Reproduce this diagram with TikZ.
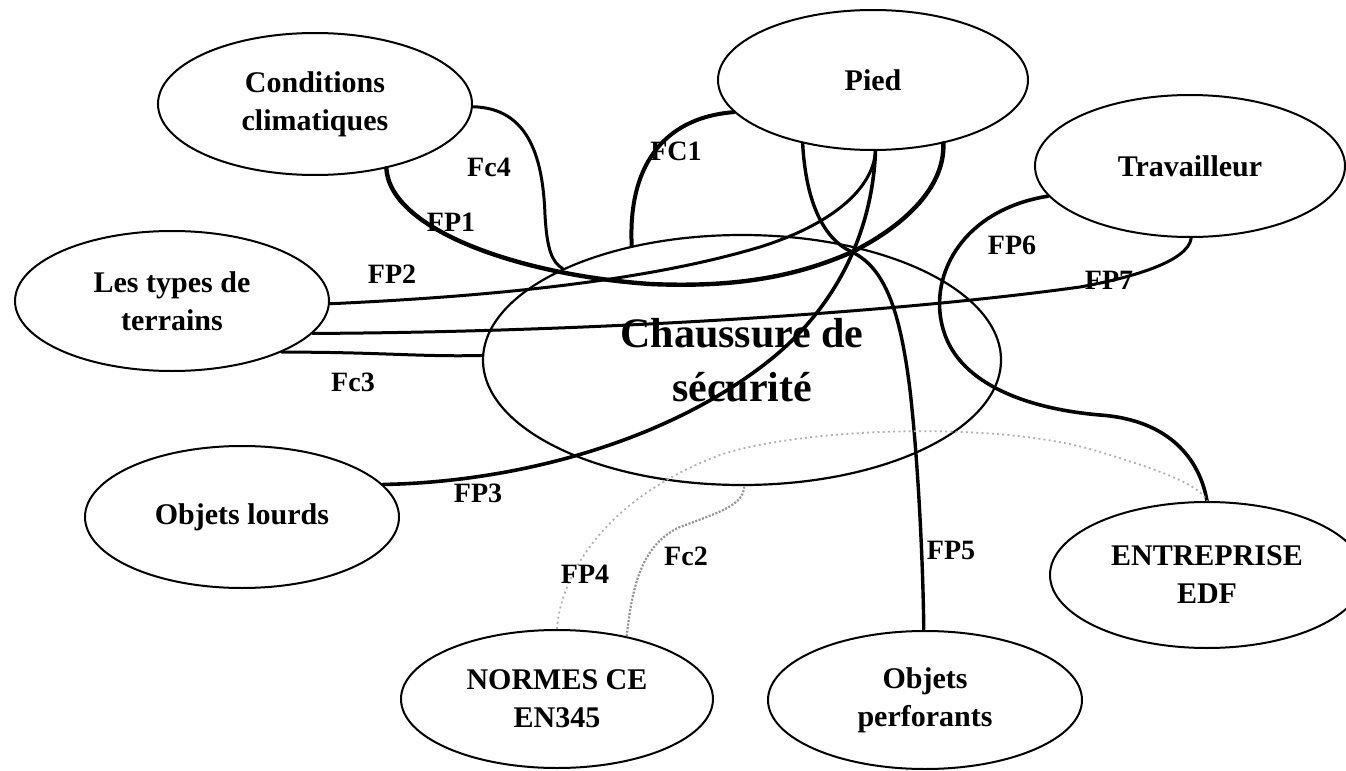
\documentclass[tikz,border=0pt]{standalone}
\usepackage{fontspec}
\setmainfont{Liberation Serif}
\usetikzlibrary{shapes.geometric}

\begin{document}
\begin{tikzpicture}[x=0.5pt,y=-0.5pt,
  bulle/.style={ellipse,draw,line width=1pt,minimum width=157pt,minimum height=71pt,inner sep=0pt,align=center,font=\bfseries\fontsize{15}{19}\selectfont},
  fct/.style={font=\bfseries\fontsize{14}{16}\selectfont,inner sep=0pt},
  lien/.style={line width=#1,line cap=round},
  pointille/.style={gray!60,line width=0.9pt,dash pattern=on 1pt off 1.6pt}]
  \useasboundingbox (0,0) rectangle (1346,771);
  \node [bulle] (cc) at (315,104) {Conditions\\climatiques};
  \node [bulle,minimum width=155pt,minimum height=70pt] (pied) at (873,80) {Pied};
  \node [bulle,minimum width=155pt] (trav) at (1190,166) {Travailleur};
  \node [bulle,minimum height=70pt] (types) at (172,301) {Les types de\\terrains};
  \node [bulle] (lourds) at (242,517) {Objets lourds};
  \node [bulle,minimum width=156pt,minimum height=69pt] (normes) at (557,699) {NORMES CE\\EN345};
  \node [bulle,minimum height=69pt] (perf) at (925,700) {Objets\\perforants};
  \node [bulle,minimum height=73pt] (edf) at (1207,575) {ENTREPRISE\\EDF};
  \node [bulle,line width=1.1pt,minimum width=259pt,minimum height=125pt,font=\bfseries\fontsize{21}{27}\selectfont] (ch) at (742,360) {Chaussure de\\sécurité};
  \coordinate (carrefour) at (852,252);
  \draw [lien=1.5pt] (cc.-1) .. controls (530,108) and (543,160) .. (545,215) .. controls (547,250) and (552,262) .. (ch.153);
  \draw [lien=2.2pt] (cc.-42) .. controls (390,230) and (520,275) .. (650,284) .. controls (740,288) and (800,275) .. (carrefour) .. controls (900,228) and (945,190) .. (pied.-42);
  \draw [lien=2pt] (pied.-167) .. controls (660,118) and (628,170) .. (ch.134);
  \draw [lien=1.5pt] (types.-1) .. controls (500,296) and (650,280) .. (760,247) .. controls (830,225) and (873,190) .. (pied.-88);
  \draw [lien=1.5pt] (types.-25) .. controls (380,352) and (420,357) .. (ch.179);
  \draw [lien=1.8pt] (lourds.13) .. controls (520,482) and (670,440) .. (770,360) .. controls (830,312) and (872,240) .. (pied.-88);
  \draw [lien=1.7pt] (pied.-138) .. controls (806,205) and (825,240) .. (carrefour) .. controls (885,268) and (900,310) .. (910,390) .. controls (918,460) and (923,560) .. (perf.91);
  \draw [lien=1.5pt] (trav.-89) .. controls (1188,262) and (1130,278) .. (1080,287) .. controls (900,312) and (600,332) .. (types.-13);
  \draw [lien=1.8pt] (trav.-168) .. controls (960,210) and (925,280) .. (945,335) .. controls (965,390) and (1040,410) .. (1100,415) .. controls (1170,420) and (1200,460) .. (edf.90);
  \draw [pointille] (normes.90) .. controls (560,580) and (600,500) .. (720,455) .. controls (800,428) and (1000,420) .. (1100,452) .. controls (1160,470) and (1200,485) .. (edf.90);
  \draw [pointille,gray!85,line width=1.1pt,dash pattern=on 1pt off 0.8pt] (normes.42) .. controls (632,590) and (640,545) .. (680,527) .. controls (720,512) and (744,505) .. (ch.-89);
  \node [fct] (lfc4) at (489,167) {Fc4};
  \node [fct] (lfp1) at (451,222) {FP1};
  \node [fct] (lfc1) at (676,151) {FC1};
  \node [fct] (lfp2) at (392,274) {FP2};
  \node [fct] (lfc3) at (353,382) {Fc3};
  \node [fct] (lfp3) at (478,493) {FP3};
  \node [fct] (lfp4) at (585,574) {FP4};
  \node [fct] (lfc2) at (686,556) {Fc2};
  \node [fct] (lfp5) at (951,550) {FP5};
  \node [fct] (lfp6) at (1012,245) {FP6};
  \node [fct] (lfp7) at (1109,280) {FP7};
\end{tikzpicture}
\end{document}
